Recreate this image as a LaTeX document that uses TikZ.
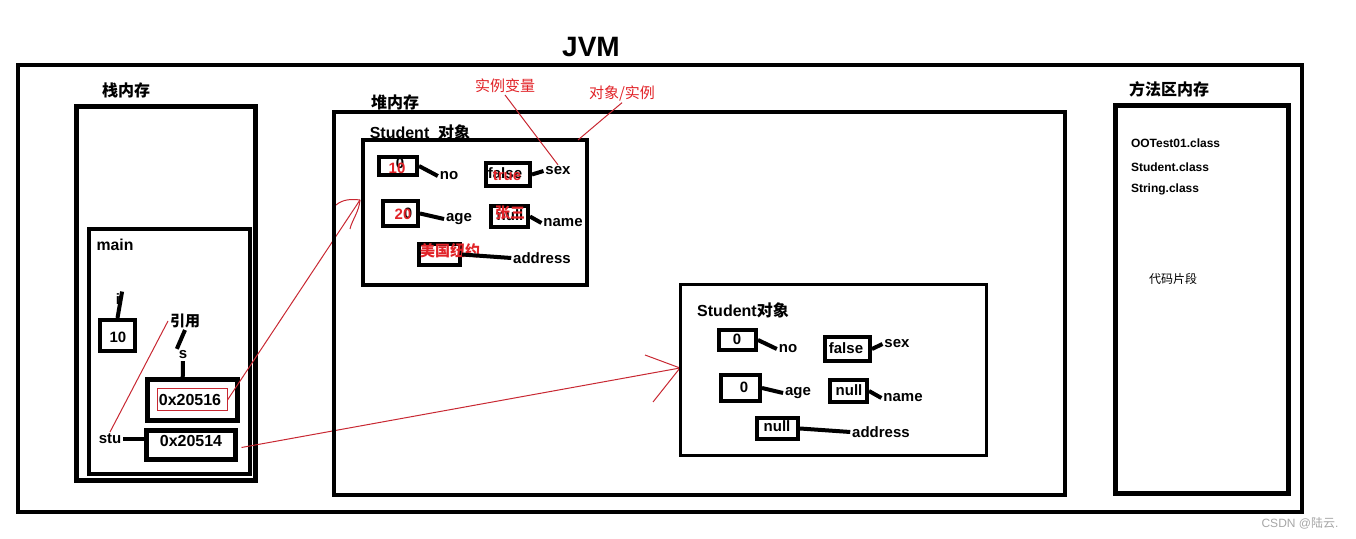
\documentclass[tikz,border=0pt]{standalone}
\usepackage{fontspec}
\setmainfont{Liberation Sans}
\newfontfamily\cjk{Noto Sans CJK SC}
\definecolor{hongxian}{RGB}{200,40,50}
\definecolor{hongzi}{RGB}{225,35,40}
\begin{document}
\begin{tikzpicture}[x=0.5pt, y=-0.5pt, line width=2pt,
  kuang/.style={draw, line width=2pt, inner sep=0pt},
  ziti/.style={font=\bfseries\fontsize{7.5}{9}\selectfont, inner sep=0pt},
  biaoti/.style={font=\bfseries\cjk\fontsize{8}{10}\selectfont, inner sep=0pt},
  hong/.style={font=\bfseries\fontsize{7.5}{9}\selectfont, text=hongzi, inner sep=0pt},
  leiming/.style={font=\bfseries\fontsize{6}{7}\selectfont, inner sep=0pt, anchor=west},
  hongxian/.style={draw=hongxian, line width=0.5pt}]
  \useasboundingbox (0,0) rectangle (1356,539);
  % JVM
  \node[font=\bfseries\fontsize{14}{16}\selectfont, inner sep=0pt] (jvm) at (591,47) {JVM};
  \draw (18,65) rectangle (1302,512);
  % 栈内存
  \node[biaoti] (zhan) at (126,90) {栈内存};
  \draw[line width=2.5pt] (76.5,106.5) rectangle (255.5,480.5);
  \draw (89,229) rectangle (250,474);
  \node[ziti, font=\bfseries\fontsize{7.9}{9}\selectfont] (main) at (115,245) {main};
  \node[ziti] (li) at (118,299) {i};
  \node[kuang, minimum width=17.5pt, minimum height=15.5pt] (b10) at (117.5,335.5) {};
  \node[ziti] (v10) at (118,337) {10};
  \draw (li.north east) -- (b10.north);
  \node[ziti, font=\bfseries\cjk\fontsize{7.5}{9}\selectfont] (yy) at (185,321) {引用};
  \node[ziti] (ls) at (183,355) {s};
  \draw (yy.south) -- (ls.north west);
  \node[kuang, line width=2.5pt, minimum width=45pt, minimum height=20.5pt] (bs) at (192.5,400) {};
  \draw (ls.south) -- (bs.113);
  \node[draw=hongxian, line width=0.5pt, minimum width=35pt, minimum height=11pt, inner sep=0pt] (hk) at (192,400) {};
  \node[ziti, font=\bfseries\fontsize{8}{10}\selectfont] (vs) at (190,400) {0x20516};
  \node[ziti] (lstu) at (110,439) {stu};
  \node[kuang, line width=2.5pt, minimum width=44.5pt, minimum height=14.5pt] (bstu) at (190.5,445.5) {};
  \node[ziti, font=\bfseries\fontsize{8}{10}\selectfont] (vstu) at (191,441) {0x20514};
  \draw (lstu.east) -- (lstu.east -| bstu.west);
  % 红线
  \draw[hongxian] (lstu.north) -- (yy.west);
  \coordinate (jt1) at (360,200);
  \draw[hongxian] (hk.east) -- (jt1);
  \draw[hongxian] (336,205) .. controls (343,199) and (352,199) .. (jt1);
  \draw[hongxian] (jt1) .. controls (359,212) and (352,220) .. (350,229);
  \coordinate (jt2) at (680,368);
  \draw[hongxian] (bstu.east) ++(2pt,-1pt) -- (jt2);
  \draw[hongxian] (645,355) -- (jt2) -- (653,402);
  % 堆内存
  \node[biaoti] (dui) at (395,102) {堆内存};
  \draw (334,112) rectangle (1065,495);
  \node[ziti, font=\bfseries\fontsize{8}{10}\selectfont] (stu1) at (420,132) {Student\ \ {\cjk 对象}};
  \draw (363,140) rectangle (587,285);
  % 对象一
  \node[kuang, minimum width=19pt, minimum height=9pt] (kno1) at (398,166) {};
  \node[ziti] (vno1) at (400,163) {0};
  \node[hong] (hno1) at (397,168) {10};
  \node[ziti] (lno1) at (449,176) {no};
  \draw (kno1.east) -- (lno1.west);
  \node[kuang, minimum width=22pt, minimum height=11.5pt] (ksex1) at (508,174.5) {};
  \node[ziti] (vsex1) at (505,173) {false};
  \node[hong] (hsex1) at (507,176) {true};
  \node[ziti] (lsex1) at (558,171) {sex};
  \draw (ksex1.east) -- (lsex1.west);
  \node[kuang, minimum width=17.5pt, minimum height=12.5pt] (kage1) at (400.5,213.5) {};
  \node[ziti] (vage1) at (408,213) {0};
  \node[hong] (hage1) at (403,214) {20};
  \node[ziti] (lage1) at (459,219) {age};
  \draw (kage1.east) -- (lage1.west);
  \node[kuang, minimum width=18.5pt, minimum height=10.5pt] (kname1) at (509.5,216.5) {};
  \node[ziti] (vname1) at (510,215) {null};
  \node[hong, font=\bfseries\cjk\fontsize{7.5}{9}\selectfont] (hname1) at (510,213) {张三};
  \node[ziti] (lname1) at (563,223) {name};
  \draw (kname1.east) -- (lname1.west);
  \node[kuang, minimum width=20.5pt, minimum height=10.5pt] (kaddr1) at (439.5,254.5) {};
  \node[hong, font=\bfseries\cjk\fontsize{7.5}{9}\selectfont] (haddr1) at (450,251) {美国纽约};
  \node[ziti] (laddr1) at (542,258) {address};
  \draw (kaddr1.east) -- (laddr1.west);
  % 注释
  \node[hong, font=\cjk\fontsize{7.5}{9}\selectfont] (slbl) at (505,86) {实例变量};
  \draw[hongxian] (slbl.south) -- (lsex1.north);
  \node[hong, font=\cjk\fontsize{7.5}{9}\selectfont] (dxlbl) at (622,93) {对象/实例};
  \coordinate (dxjiao) at (578,140);
  \draw[hongxian] (dxlbl.south) -- (dxjiao);
  % 对象二
  \draw[line width=1.5pt] (680,285) rectangle (986,456);
  \node[ziti, font=\bfseries\fontsize{8}{10}\selectfont] (stu2) at (743,310) {Student{\cjk 对象}};
  \node[kuang, minimum width=18.5pt, minimum height=10pt] (kno2) at (737.5,340) {};
  \node[ziti] (vno2) at (737,339) {0};
  \node[ziti] (lno2) at (788,349) {no};
  \draw (kno2.east) -- (lno2.west);
  \node[kuang, minimum width=22.5pt, minimum height=12pt] (ksex2) at (847.5,349) {};
  \node[ziti] (vsex2) at (846,348) {false};
  \node[ziti] (lsex2) at (897,344) {sex};
  \draw (ksex2.east) -- (lsex2.west);
  \node[kuang, minimum width=19.5pt, minimum height=13pt] (kage2) at (740.5,388) {};
  \node[ziti] (vage2) at (744,387) {0};
  \node[ziti] (lage2) at (798,393) {age};
  \draw (kage2.east) -- (lage2.west);
  \node[kuang, minimum width=18.5pt, minimum height=11pt] (kname2) at (848.5,391) {};
  \node[ziti] (vname2) at (849,390) {null};
  \node[ziti] (lname2) at (903,398) {name};
  \draw (kname2.east) -- (lname2.west);
  \node[kuang, minimum width=20.5pt, minimum height=10.5pt] (kaddr2) at (777.5,428.5) {};
  \node[ziti] (vaddr2) at (777,426) {null};
  \node[ziti] (laddr2) at (881,432) {address};
  \draw (kaddr2.east) -- (laddr2.west);
  % 方法区内存
  \node[biaoti] (ff) at (1169,89) {方法区内存};
  \draw[line width=2.5pt] (1115,106) rectangle (1288,494);
  \node[leiming] (c1) at (1129,143) {OOTest01.class};
  \node[leiming] (c2) at (1129,167) {Student.class};
  \node[leiming] (c3) at (1129,189) {String.class};
  \node[font=\cjk\fontsize{6}{7}\selectfont, inner sep=0pt] (dm) at (1173,279) {代码片段};
  % 水印
  \node[font=\fontsize{6}{7}\selectfont, text=black!35, inner sep=0pt] (sy) at (1300,523) {CSDN @{\cjk 陆云}.};
\end{tikzpicture}
\end{document}
